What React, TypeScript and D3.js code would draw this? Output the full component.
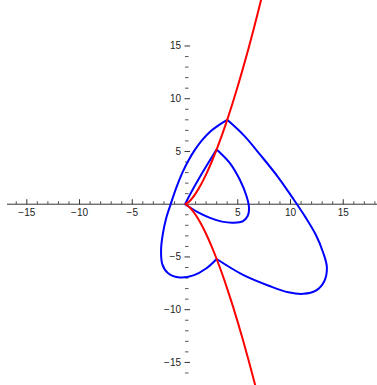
import React from "react";
import * as d3 from "d3";

const WIDTH = 377;
const HEIGHT = 385;

// Plot window in data units
const X_DOMAIN: [number, number] = [-17.54, 18.2];
const Y_DOMAIN: [number, number] = [-17.14, 19.36];

// Cuspidal cubic y^2 = x^3, upper branch samples (lower branch is its mirror)
const cubicX = [0, 0.5, 1, 1.5, 2, 2.5, 3, 3.5, 4, 4.5, 5, 5.5, 6, 6.5, 7, 7.4];
const cubicY = [0, 0.354, 1, 1.837, 2.828, 3.953, 5.196, 6.548, 8, 9.546, 11.18, 12.9, 14.7, 16.57, 18.52, 20.13];

// Large loop: left arc from (4, 8) round to (3, -5.2)
const bigLeftX = [4.0, 3.2, 2.4, 1.6, 0.9, 0.3, -0.25, -0.85, -1.36, -1.78, -2.1, -2.27, -2.15, -1.6, -0.5, 0.8, 2.0, 3.0];
const bigLeftY = [8.0, 7.5, 6.9, 6.05, 5.1, 4.1, 3.0, 1.5, 0, -1.3, -2.8, -4.3, -5.7, -6.55, -6.95, -6.75, -6.1, -5.196];

// Large loop: right arc from (3, -5.2) back to (4, 8)
const bigRightX = [3.0, 5.5, 8.0, 9.8, 11.2, 12.4, 13.2, 13.45, 13.1, 12.4, 11.4, 10.2, 8.8, 7.2, 5.6, 4.0];
const bigRightY = [-5.196, -6.7, -7.75, -8.35, -8.5, -8.2, -7.3, -6.0, -4.6, -2.9, -1.2, 0.6, 2.6, 4.6, 6.5, 8.0];

// Small loop: near-straight arc from origin to (3, 5.2)
const smallLeftX = [0, 0.68, 1.42, 2.2, 3.0];
const smallLeftY = [0, 1.3, 2.6, 3.9, 5.196];

// Small loop: right arc from (3, 5.2) back to origin
const smallRightX = [3.0, 4.27, 5.21, 5.85, 6.07, 5.95, 5.5, 4.6, 3.5, 2.37, 1.2, 0];
const smallRightY = [5.196, 3.88, 2.29, 0.71, -0.4, -1.1, -1.6, -1.75, -1.65, -1.3, -0.75, 0];

const xMajorTicks = [-15, -10, -5, 5, 10, 15];
const yMajorTicks = [-15, -10, -5, 5, 10, 15];
const xMinorRange: [number, number] = [-16, 18];
const yMinorRange: [number, number] = [-16, 15];

type Pt = [number, number];
const zip = (xs: number[], ys: number[]): Pt[] => xs.map((x, i) => [x, ys[i]]);

export default function App() {
  const x = d3.scaleLinear().domain(X_DOMAIN).range([0, WIDTH]);
  const y = d3.scaleLinear().domain(Y_DOMAIN).range([HEIGHT, 0]);

  const smooth = d3
    .line<Pt>()
    .x((d) => x(d[0]))
    .y((d) => y(d[1]))
    .curve(d3.curveCatmullRom.alpha(0.5));

  const branch = d3
    .line<Pt>()
    .x((d) => x(d[0]))
    .y((d) => y(d[1]))
    .curve(d3.curveMonotoneX);

  const upper = zip(cubicX, cubicY);
  const lower = zip(cubicX, cubicY.map((v) => -v));

  const blueArcs = [
    zip(bigLeftX, bigLeftY),
    zip(bigRightX, bigRightY),
    zip(smallLeftX, smallLeftY),
    zip(smallRightX, smallRightY),
  ];

  const x0 = x(0);
  const y0 = y(0);
  const xMinor = d3.range(xMinorRange[0], xMinorRange[1] + 1).filter((v) => v !== 0 && v % 5 !== 0);
  const yMinor = d3.range(yMinorRange[0], yMinorRange[1] + 1).filter((v) => v !== 0 && v % 5 !== 0);
  const fmt = (v: number) => (v < 0 ? "\u2212" + Math.abs(v) : String(v));

  return (
    <svg
      width={WIDTH}
      height={HEIGHT}
      style={{ position: "absolute", left: 0, top: 0, background: "#fff" }}
      fontFamily="'Liberation Sans', Arial, sans-serif"
      fontSize={10}
    >
      {/* horizontal axis */}
      <line x1={7} x2={WIDTH} y1={y0} y2={y0} stroke="#333" strokeWidth={1} />
      {xMinor.map((v) => (
        <line key={"xm" + v} x1={x(v)} x2={x(v)} y1={y0} y2={y0 - 3} stroke="#555" strokeWidth={1} />
      ))}
      {xMajorTicks.map((v) => (
        <g key={"xM" + v}>
          <line x1={x(v)} x2={x(v)} y1={y0} y2={y0 - 5} stroke="#333" strokeWidth={1} />
          <text x={x(v)} y={y0 + 12} textAnchor="middle" fill="#222">
            {fmt(v)}
          </text>
        </g>
      ))}

      {/* vertical axis ticks */}
      {yMinor.map((v) => (
        <line key={"ym" + v} x1={x0} x2={x0 + 3.5} y1={y(v)} y2={y(v)} stroke="#555" strokeWidth={1} />
      ))}
      {yMajorTicks.map((v) => (
        <g key={"yM" + v}>
          <line x1={x0 - 0.5} x2={x0 + 5} y1={y(v)} y2={y(v)} stroke="#333" strokeWidth={1} />
          <text x={x0 - 4} y={y(v) + 3.5} textAnchor="end" fill="#222">
            {fmt(v)}
          </text>
        </g>
      ))}

      {/* loops */}
      {blueArcs.map((arc, i) => (
        <path
          key={"b" + i}
          d={smooth(arc) ?? ""}
          fill="none"
          stroke="#0000ff"
          strokeWidth={2}
          strokeLinejoin="miter"
        />
      ))}

      {/* cubic y^2 = x^3 */}
      <path d={branch(upper) ?? ""} fill="none" stroke="#ff0000" strokeWidth={2} />
      <path d={branch(lower) ?? ""} fill="none" stroke="#ff0000" strokeWidth={2} />
    </svg>
  );
}
